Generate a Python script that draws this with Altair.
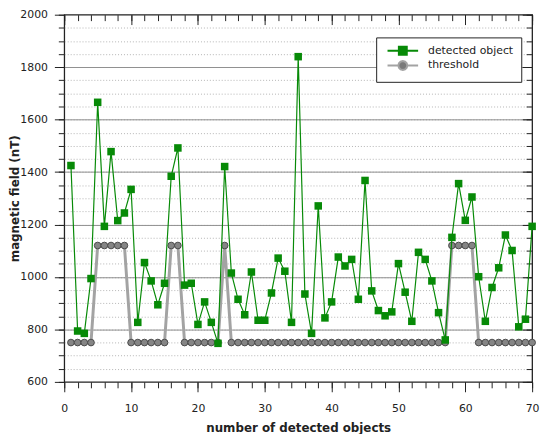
import altair as alt
import pandas as pd

# ---- data ----
objects = list(range(1, 71))
detected = [1425, 794, 785, 994, 1666, 1193, 1478, 1215, 1244, 1334,
            827, 1055, 985, 894, 976, 1384, 1492, 969, 976, 819,
            905, 827, 747, 1421, 1015, 915, 856, 1019, 835, 835,
            939, 1072, 1022, 827, 1840, 935, 785, 1271, 844, 905,
            1076, 1042, 1067, 915, 1368, 947, 872, 852, 867, 1051,
            942, 831, 1094, 1067, 985, 864, 760, 1151, 1356, 1216,
            1305, 1001, 831, 960, 1035, 1160, 1101, 810, 839, 1193]
threshold = [750, 750, 750, 750, 1120, 1120, 1120, 1120, 1120, 750,
             750, 750, 750, 750, 750, 1120, 1120, 750, 750, 750,
             750, 750, 750, 1120, 750, 750, 750, 750, 750, 750,
             750, 750, 750, 750, 750, 750, 750, 750, 750, 750,
             750, 750, 750, 750, 750, 750, 750, 750, 750, 750,
             750, 750, 750, 750, 750, 750, 750, 1120, 1120, 1120,
             1120, 750, 750, 750, 750, 750, 750, 750, 750, 750]
series = ["detected object", "threshold"]

x_major = [0, 10, 20, 30, 40, 50, 60, 70]
x_minor = list(range(0, 71, 2))
y_major = [600, 800, 1000, 1200, 1400, 1600, 1800, 2000]
y_minor = list(range(600, 2001, 50))

det_df = pd.DataFrame({"n": objects, "field": detected})
thr_df = pd.DataFrame({"n": objects, "field": threshold})
leg_df = pd.DataFrame({"series": series})

FONT = "DejaVu Sans"
INK = "#222222"
GREEN = "#078a07"

xs = alt.Scale(domain=[0, 70], nice=False, zero=False)
ys = alt.Scale(domain=[600, 2000], nice=False, zero=False)

edge_test = "datum.value == 600 || datum.value == 2000"

def xaxis(values, size, orient="bottom", labels=False, title=None, offset=0):
    kw = dict(values=values, orient=orient, tickSize=size, tickColor=INK, tickWidth=1,
              domain=False, grid=False, labels=labels, labelFlush=False, format="d",
              labelFont=FONT, labelFontSize=11, labelColor=INK, labelPadding=11,
              titleFont=FONT, titleFontSize=12, titleFontWeight="bold", titleColor=INK,
              titlePadding=9, offset=offset, title=title)
    return alt.Axis(**kw)

def yaxis(values, size, orient="left", labels=False, title=None, offset=0, grid=None):
    kw = dict(values=values, orient=orient, tickSize=size, tickColor=INK, tickWidth=1,
              domain=False, labels=labels, labelFlush=False, format="d",
              labelFont=FONT, labelFontSize=11, labelColor=INK, labelPadding=7,
              titleFont=FONT, titleFontSize=12, titleFontWeight="bold", titleColor=INK,
              titlePadding=-2, offset=offset, title=title)
    if grid == "minor":
        kw.update(grid=True, gridColor="#b4b4b4", gridDash=[1, 2], gridWidth=1,
                  gridOpacity={"condition": {"test": edge_test, "value": 0}, "value": 1})
    elif grid == "major":
        kw.update(grid=True, gridColor="#8f8f8f", gridWidth=1,
                  gridOpacity={"condition": {"test": edge_test, "value": 0}, "value": 1})
    else:
        kw.update(grid=False)
    return alt.Axis(**kw)

thr_line = alt.Chart(thr_df).mark_line(color="#a3a3a3", strokeWidth=3).encode(
    x=alt.X("n:Q", scale=xs, axis=xaxis(x_minor, 6)),
    y=alt.Y("field:Q", scale=ys, axis=yaxis(y_minor, 6, grid="minor")),
)
thr_pts = alt.Chart(thr_df).mark_point(shape="circle", filled=True, fill="#858585",
                                       stroke="#4a4a4a", strokeWidth=1, opacity=1, size=46).encode(
    x=alt.X("n:Q", scale=xs, axis=xaxis(x_major, 10, labels=True, title="number of detected objects")),
    y=alt.Y("field:Q", scale=ys, axis=yaxis(y_major, 10, labels=True, title="magnetic field (nT)", grid="major")),
)
det_line = alt.Chart(det_df).mark_line(color=GREEN, strokeWidth=1.2).encode(
    x=alt.X("n:Q", scale=xs, axis=xaxis(x_minor, 6, orient="top", offset=-6)),
    y=alt.Y("field:Q", scale=ys, axis=yaxis(y_minor, 6, orient="right", offset=-6)),
)
det_pts = alt.Chart(det_df).mark_point(shape="square", filled=True, color=GREEN, opacity=1, size=58).encode(
    x=alt.X("n:Q", scale=xs, axis=xaxis(x_major, 10, orient="top", offset=-10)),
    y=alt.Y("field:Q", scale=ys, axis=yaxis(y_major, 10, orient="right", offset=-10)),
)

# legend symbols: line + marker, drawn with symbolSize 25 (1 unit = 2.5 px)
det_path = "M-6.2,0H-1.6M1.6,0H6.2M-1.6,-1.6H1.6V1.6H-1.6Z"
thr_path = ("M-6.2,0H-1.8M1.8,0H6.2"
            "M1.8,0L1.56,0.9L0.9,1.56L0,1.8L-0.9,1.56L-1.56,0.9L-1.8,0"
            "L-1.56,-0.9L-0.9,-1.56L0,-1.8L0.9,-1.56L1.56,-0.9Z")

legend = alt.Legend(title=None, orient="none", legendX=316, legendY=23,
                    padding=8, strokeColor=INK, fillColor="white", cornerRadius=0,
                    symbolOpacity=1, symbolSize=25, symbolOffset=13.5,
                    symbolStrokeWidth=2,
                    labelOffset=20, rowPadding=-2,
                    labelFont=FONT, labelFontSize=11, labelColor=INK)

leg_layer = alt.Chart(leg_df).mark_point(filled=True, opacity=0).encode(
    fill=alt.Fill("series:N", scale=alt.Scale(domain=series, range=[GREEN, "#7a7a7a"]), legend=legend),
    stroke=alt.Stroke("series:N", scale=alt.Scale(domain=series, range=[GREEN, "#a3a3a3"]), legend=legend),
    shape=alt.Shape("series:N", scale=alt.Scale(domain=series, range=[det_path, thr_path]), legend=legend),
)

chart = alt.layer(thr_line, thr_pts, det_line, det_pts, leg_layer).resolve_axis(
    x="independent", y="independent"
).properties(
    width=474, height=372,
    autosize=alt.AutoSizeParams(type="none"),
    padding={"left": 57, "top": 4, "right": 10, "bottom": 50},
    background="white",
).configure(font=FONT).configure_view(stroke=INK, strokeWidth=1.3)

chart.save("out.html", embed_options={"renderer": "svg", "actions": False})
